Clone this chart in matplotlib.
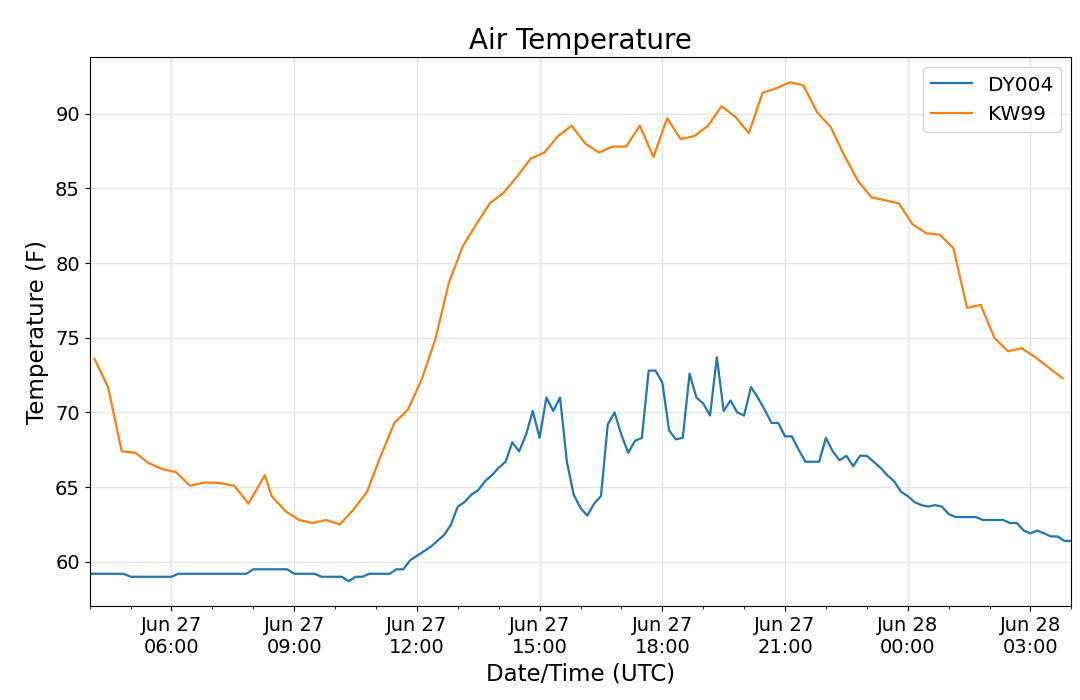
import numpy as np
import pandas as pd
import matplotlib
matplotlib.use("Agg")
import matplotlib.pyplot as plt
import matplotlib.dates as mdates

start = "2019-06-27 04:00"

# DY004, 10 minute readings from 04:00
dy004_temp = [
    59.2, 59.2, 59.2, 59.2, 59.2, 59.2, 59.0, 59.0, 59.0, 59.0,
    59.0, 59.0, 59.0, 59.2, 59.2, 59.2, 59.2, 59.2, 59.2, 59.2,
    59.2, 59.2, 59.2, 59.2, 59.5, 59.5, 59.5, 59.5, 59.5, 59.5,
    59.2, 59.2, 59.2, 59.2, 59.0, 59.0, 59.0, 59.0, 58.7, 59.0,
    59.0, 59.2, 59.2, 59.2, 59.2, 59.5, 59.5, 60.1, 60.4, 60.7,
    61.0, 61.4, 61.8, 62.5, 63.7, 64.0, 64.5, 64.8, 65.4, 65.8,
    66.3, 66.7, 68.0, 67.4, 68.5, 70.1, 68.3, 71.0, 70.1, 71.0,
    66.7, 64.5, 63.6, 63.1, 63.9, 64.4, 69.2, 70.0, 68.5, 67.3,
    68.1, 68.3, 72.8, 72.8, 72.0, 68.8, 68.2, 68.3, 72.6, 71.0,
    70.6, 69.8, 73.7, 70.1, 70.8, 70.0, 69.8, 71.7, 71.0, 70.2,
    69.3, 69.3, 68.4, 68.4, 67.5, 66.7, 66.7, 66.7, 68.3, 67.4,
    66.8, 67.1, 66.4, 67.1, 67.1, 66.7, 66.3, 65.8, 65.4, 64.7,
    64.4, 64.0, 63.8, 63.7, 63.8, 63.7, 63.2, 63.0, 63.0, 63.0,
    63.0, 62.8, 62.8, 62.8, 62.8, 62.6, 62.6, 62.1, 61.9, 62.1,
    61.9, 61.7, 61.7, 61.4, 61.4,
]

# KW99, minutes after 04:00
kw99_minutes = [
    7, 27, 47, 67, 87, 107, 127, 147, 167, 187,
    212, 233, 257, 267, 287, 307, 327, 347, 367, 387,
    407, 427, 447, 467, 487, 507, 527, 547, 567, 587,
    607, 627, 647, 667, 687, 707, 727, 747, 767, 787,
    807, 827, 847, 867, 887, 907, 927, 947, 967, 987,
    1007, 1027, 1047, 1067, 1087, 1107, 1127, 1147, 1167, 1187,
    1207, 1227, 1247, 1267, 1287, 1307, 1327, 1347, 1367, 1387,
    1407, 1427,
]
kw99_temp = [
    73.6, 71.7, 67.4, 67.3, 66.6, 66.2, 66.0, 65.1, 65.3, 65.3,
    65.1, 63.9, 65.8, 64.4, 63.4, 62.8, 62.6, 62.8, 62.5, 63.5,
    64.7, 67.1, 69.3, 70.2, 72.2, 74.9, 78.7, 81.1, 82.6, 84.0,
    84.7, 85.8, 87.0, 87.4, 88.5, 89.2, 88.0, 87.4, 87.8, 87.8,
    89.2, 87.1, 89.7, 88.3, 88.5, 89.2, 90.5, 89.8, 88.7, 91.4,
    91.7, 92.1, 91.9, 90.1, 89.1, 87.2, 85.5, 84.4, 84.2, 84.0,
    82.6, 82.0, 81.9, 81.0, 77.0, 77.2, 75.0, 74.1, 74.3, 73.7,
    73.0, 72.3,
]


def makeTimes():
    t0 = pd.Timestamp(start)
    dyTimes = pd.date_range(t0, periods=len(dy004_temp), freq="10min")
    kwTimes = t0 + pd.to_timedelta(kw99_minutes, unit="min")
    return dyTimes, kwTimes


def makeGraph():
    dyTimes, kwTimes = makeTimes()
    fig, ax = plt.subplots(figsize=(10.8, 7), dpi=100)
    fig.subplots_adjust(left=0.083, right=0.992, top=0.918, bottom=0.134)

    ax.plot(dyTimes, dy004_temp, color="#1f77b4", linewidth=1.6, label="DY004")
    ax.plot(kwTimes, kw99_temp, color="#ff7f0e", linewidth=1.6, label="KW99")

    ax.set_xlim(dyTimes[0], dyTimes[-1])
    ax.xaxis.set_major_locator(mdates.HourLocator(byhour=range(0, 24, 3)))
    ax.xaxis.set_minor_locator(mdates.HourLocator())
    ax.xaxis.set_major_formatter(mdates.DateFormatter("%b %d\n%H:%M"))
    for lbl in ax.get_xticklabels():
        lbl.set_horizontalalignment("center")
    ax.set_yticks([60, 65, 70, 75, 80, 85, 90])

    ax.grid(True, which="major", color="#e6e6e6", linewidth=1)
    ax.tick_params(axis="both", which="major", labelsize=14)
    ax.tick_params(axis="x", which="minor", length=2.5)

    ax.set_title("Air Temperature", fontsize=20)
    ax.set_xlabel("Date/Time (UTC)", fontsize=16.5)
    ax.set_ylabel("Temperature (F)", fontsize=16.5)
    ax.legend(loc="upper right", fontsize=14.5)

    fig.savefig("out.png", dpi=100)


if __name__ == "__main__":
    makeGraph()
